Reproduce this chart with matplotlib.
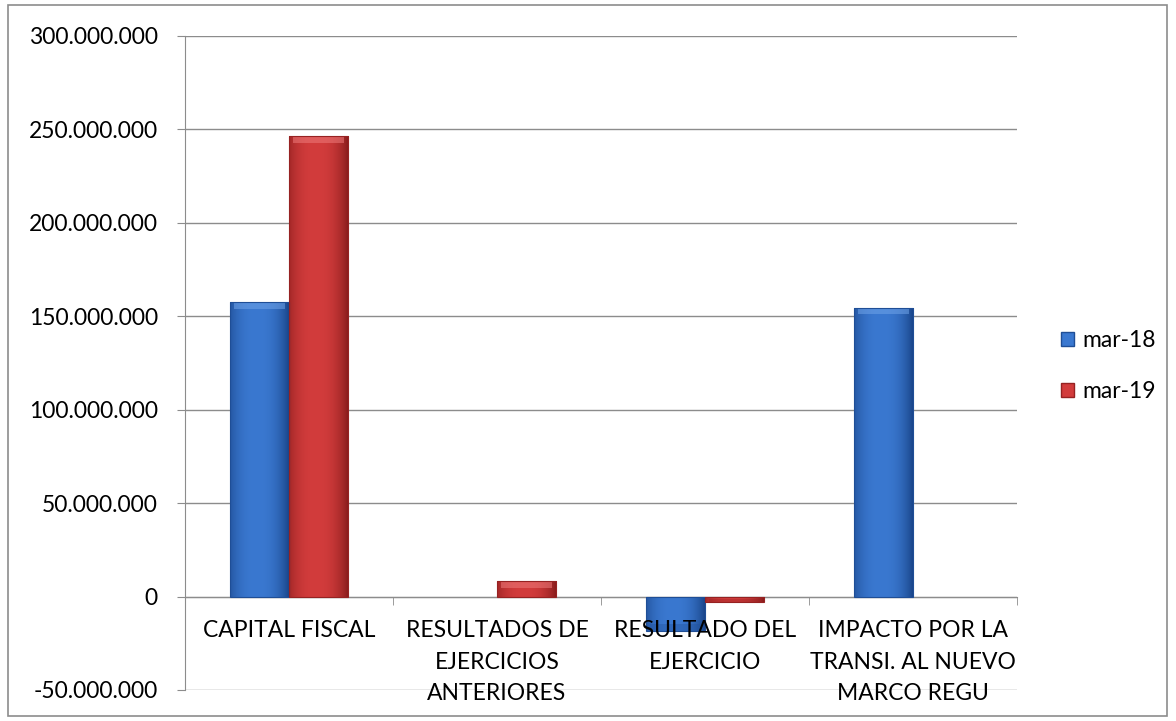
import matplotlib
matplotlib.use("Agg")
import matplotlib.pyplot as plt
import numpy as np
from matplotlib.patches import Rectangle, Patch
from matplotlib.ticker import FuncFormatter, MultipleLocator

plt.rcParams['font.family'] = ['Lato', 'DejaVu Sans']

categories = ["CAPITAL FISCAL", "RESULTADOS DE\nEJERCICIOS\nANTERIORES",
              "RESULTADO DEL\nEJERCICIO", "IMPACTO POR LA\nTRANSI. AL NUEVO\nMARCO REGU"]
series_names = ["mar-18", "mar-19"]
mar18 = [157_600_000, 0, -18_200_000, 154_500_000]
mar19 = [246_300_000, 8_200_000, -2_700_000, 0]

colors = ["#3A78D0", "#D23C3C"]
dark = ["#1F4E96", "#962222"]
light = ["#6FA3E8", "#EE7A7A"]
FS = 16.5

fig = plt.figure(figsize=(11.76, 7.21), dpi=100)
fig.patches.append(Rectangle((8/1176, 5/721), 1159/1176, 711/721, transform=fig.transFigure,
                             fill=False, edgecolor="#8C8C8C", linewidth=1.2))
ax = fig.add_axes([185/1176, 1-690/721, (1017-185)/1176, (690-36)/721])

x = np.arange(len(categories))
w = 0.284
ax.set_xlim(-0.5, 3.5)
ax.set_ylim(-50_000_000, 300_000_000)

def grad_bar(xc, h, i):
    if h == 0:
        return
    bars = ax.bar(xc, h, w, color=colors[i], edgecolor="none", zorder=3)
    b = bars[0]
    t = np.linspace(0, 1, 64)
    prof = 1 - (np.abs(t - 0.45) * 2) ** 2.5
    c0 = np.array(matplotlib.colors.to_rgb(dark[i]))
    c1 = np.array(matplotlib.colors.to_rgb(colors[i]))
    img = c0[None, :] + (c1 - c0)[None, :] * prof[:, None]
    img = np.tile(img[None, :, :], (2, 1, 1))
    y0, y1 = (0, h) if h > 0 else (h, 0)
    im = ax.imshow(img, extent=[xc - w/2, xc + w/2, y0, y1], aspect='auto',
                   zorder=3.5, interpolation='bilinear')
    im.set_clip_path(b)
    bev = min(3_500_000, abs(h) * 0.45)
    if h > 0:
        ax.add_patch(Rectangle((xc - w/2 + 0.02, h - bev), w - 0.04, bev, facecolor=light[i],
                               edgecolor="none", alpha=0.55, zorder=4))
    else:
        ax.add_patch(Rectangle((xc - w/2 + 0.02, h), w - 0.04, bev, facecolor=dark[i],
                               edgecolor="none", alpha=0.35, zorder=4))
    ax.add_patch(Rectangle((xc - w/2, y0), w, y1 - y0, fill=False, edgecolor=dark[i],
                           linewidth=0.8, zorder=4.5))

for j in range(len(categories)):
    grad_bar(x[j] - w/2, mar18[j], 0)
    grad_bar(x[j] + w/2, mar19[j], 1)

ax.yaxis.set_major_locator(MultipleLocator(50_000_000))
ax.yaxis.set_major_formatter(FuncFormatter(lambda v, p: f"{int(v):,}".replace(",", ".")))
ax.grid(axis='y', color="#8C8C8C", linewidth=1.0, zorder=0)
ax.set_axisbelow(True)
for s in ["top", "right"]:
    ax.spines[s].set_visible(False)
ax.spines["left"].set_color("#8C8C8C")
ax.spines["bottom"].set_color("#8C8C8C")
ax.spines["bottom"].set_position(("data", 0))
ax.spines["bottom"].set_zorder(2)
ax.tick_params(axis='y', direction='out', length=6, color="#8C8C8C", labelsize=FS, pad=13.5)
ax.set_xticks(x)
ax.set_xticklabels([])
ax.set_xticks(np.arange(-0.5, 4, 1), minor=True)
ax.tick_params(axis='x', which='major', length=0)
ax.tick_params(axis='x', which='minor', direction='out', length=6, color="#8C8C8C")

for j, lab in enumerate(categories):
    ax.annotate(lab, xy=(x[j], 0), xytext=(0, -17), textcoords='offset points',
                ha='center', va='top', fontsize=FS, linespacing=1.62, zorder=6,
                annotation_clip=False)

handles = [Patch(facecolor=colors[i], edgecolor=dark[i]) for i in range(2)]
fig.legend(handles, series_names, loc='center left', bbox_to_anchor=(1040/1176, 1-366/721),
           frameon=False, fontsize=16.5, handlelength=0.6, handleheight=0.6,
           handletextpad=0.35, labelspacing=1.3)

fig.savefig("out.png", dpi=100)
